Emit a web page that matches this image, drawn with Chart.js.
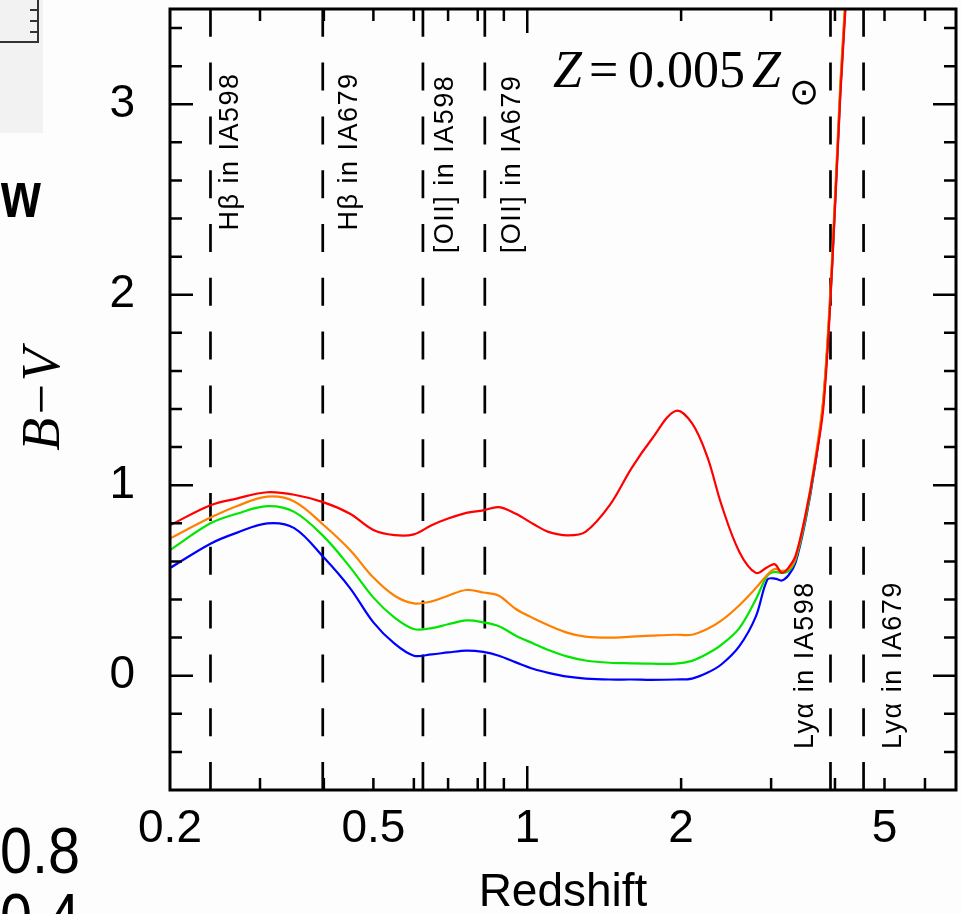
<!DOCTYPE html>
<html>
<head>
<meta charset="utf-8">
<script src="https://cdn.jsdelivr.net/npm/chart.js@4.4.0/dist/chart.umd.min.js"></script>
<style>
  body { margin: 0; background: #fdfdfd; }
  #wrap { position: relative; width: 961px; height: 914px; overflow: hidden; }
  #chart { position: absolute; left: 0; top: 0; }
  .scrap { position: absolute; color: #000; font-family: 'Liberation Sans', sans-serif; line-height: 1; white-space: nowrap; transform-origin: left top; }
  .tick { position: absolute; left: 30px; width: 8px; height: 2px; background: #333; }
</style>
</head>
<body>
<div id="wrap">
  <!-- bits of the neighbouring figure that got caught in the crop -->
  <div style="position:absolute;left:0;top:0;width:43px;height:133px;background:#f2f2f2"></div>
  <div style="position:absolute;left:0;top:0;width:37px;height:41px;border-right:2px solid #333;border-bottom:2px solid #333"></div>
  <div class="tick" style="top:9px"></div>
  <div class="tick" style="top:20px"></div>
  <div class="tick" style="top:31px"></div>
  <div class="scrap" style="left:1px;top:163px;font-size:64px;font-weight:bold;transform:scaleX(0.8)">w</div>
  <div class="scrap" style="left:0;top:819px;font-size:64px;transform:scaleX(0.9)">0.8</div>
  <div class="scrap" style="left:0;top:885px;font-size:64px;transform:scaleX(0.9)">0.4</div>
  <canvas id="chart" width="961" height="914"></canvas>
</div>
<script>
// redshift grid shared by the four tracks
const redshift = [0.2, 0.24, 0.27, 0.31, 0.35, 0.4, 0.45, 0.5, 0.55, 0.6,
                  0.65, 0.7, 0.76, 0.82, 0.88, 0.95, 1.03, 1.1, 1.2, 1.3,
                  1.45, 1.6, 1.75, 1.95, 2.1, 2.25, 2.4, 2.6, 2.8, 2.95,
                  3.05, 3.15, 3.25, 3.35, 3.5, 3.65, 3.8, 3.95, 4.1, 4.25];

// B-V colour tracks
const bvRed = [0.79, 0.895, 0.93, 0.963, 0.95, 0.91, 0.85, 0.765, 0.738, 0.742,
               0.79, 0.825, 0.855, 0.868, 0.885, 0.85, 0.795, 0.755, 0.737, 0.755,
               0.895, 1.09, 1.24, 1.39, 1.326, 1.15, 0.895, 0.65, 0.54, 0.57,
               0.585, 0.54, 0.57, 0.63, 0.84, 1.1, 1.42, 2.15, 3.06, 3.75];
const bvOrange = [0.72, 0.83, 0.89, 0.94, 0.915, 0.79, 0.66, 0.515, 0.42, 0.38,
                  0.39, 0.42, 0.45, 0.437, 0.42, 0.35, 0.30, 0.265, 0.225, 0.205,
                  0.20, 0.205, 0.21, 0.215, 0.215, 0.245, 0.29, 0.37, 0.46, 0.53,
                  0.56, 0.55, 0.56, 0.62, 0.84, 1.12, 1.47, 2.2, 3.12, 3.8];
const bvGreen = [0.66, 0.80, 0.85, 0.89, 0.86, 0.73, 0.57, 0.41, 0.305, 0.245,
                 0.25, 0.27, 0.29, 0.28, 0.26, 0.21, 0.168, 0.135, 0.10, 0.08,
                 0.068, 0.065, 0.063, 0.063, 0.078, 0.115, 0.163, 0.25, 0.40, 0.525,
                 0.545, 0.54, 0.55, 0.61, 0.82, 1.10, 1.46, 2.17, 3.1, 3.78];
const bvBlue = [0.565, 0.693, 0.75, 0.80, 0.775, 0.62, 0.46, 0.28, 0.168, 0.105,
                0.112, 0.122, 0.132, 0.125, 0.105, 0.07, 0.035, 0.015, -0.005, -0.015,
                -0.02, -0.02, -0.022, -0.02, -0.015, 0.015, 0.06, 0.155, 0.31, 0.505,
                0.51, 0.50, 0.53, 0.595, 0.81, 1.09, 1.45, 2.16, 3.08, 3.77];

// emission lines falling in the filters
const lineZ = [0.240, 0.398, 0.625, 0.826, 3.92, 4.55];
const lineNames = ['Hβ in IA598', 'Hβ in IA679', '[OII] in IA598', '[OII] in IA679', 'Lyα in IA598', 'Lyα in IA679'];

// axes
const xRange = [0.2, 6.9];
const yRange = [-0.6, 3.5];
const xTickLabels = [0.2, 0.5, 1, 2, 5];
const yTickLabels = [0, 1, 2, 3];
const xMinor = [0.3, 0.4, 0.5, 0.6, 0.7, 0.8, 0.9, 2, 3, 4, 5, 6];
const xMajor = [1];

const sans = "'Liberation Sans', Arial, sans-serif";
const serif = "'Liberation Serif', 'Times New Roman', serif";

function track(values) {
    return redshift.map((z, i) => ({ x: z, y: values[i] }));
}

// frame with inward ticks on all four sides
const frameTicks = {
    id: 'frameTicks',
    afterDatasetsDraw(chart) {
        const { ctx, chartArea: a, scales: { x, y } } = chart;
        ctx.save();
        ctx.strokeStyle = '#000';
        ctx.lineWidth = 2.5;
        ctx.beginPath();
        for (let k = Math.round(yRange[0] * 5) + 1; k < Math.round(yRange[1] * 5); k++) {
            const py = y.getPixelForValue(k / 5);
            const len = k % 5 === 0 ? 23 : 12;
            ctx.moveTo(a.left, py); ctx.lineTo(a.left + len, py);
            ctx.moveTo(a.right, py); ctx.lineTo(a.right - len, py);
        }
        xMinor.concat(xMajor).forEach(v => {
            const px = x.getPixelForValue(v);
            const len = xMajor.includes(v) ? 24 : 12;
            ctx.moveTo(px, a.bottom); ctx.lineTo(px, a.bottom - len);
            ctx.moveTo(px, a.top); ctx.lineTo(px, a.top + len);
        });
        ctx.stroke();
        ctx.lineWidth = 3;
        ctx.strokeRect(a.left, a.top, a.right - a.left, a.bottom - a.top);
        ctx.restore();
    }
};

// rotated line labels and the metallicity note
const lineLabels = {
    id: 'lineLabels',
    afterDatasetsDraw(chart, args, opts) {
        const { ctx, scales: { x, y } } = chart;
        ctx.save();
        ctx.fillStyle = '#000';
        ctx.font = '27px ' + sans;
        ctx.letterSpacing = '1.5px';
        ctx.textAlign = 'center';
        ctx.textBaseline = 'alphabetic';
        lineZ.forEach((z, i) => {
            ctx.save();
            ctx.translate(x.getPixelForValue(z) + opts.dx[i], y.getPixelForValue(opts.midY[i]));
            ctx.rotate(-Math.PI / 2);
            ctx.fillText(lineNames[i], 0, 0);
            ctx.restore();
        });
        ctx.letterSpacing = '0px';
        ctx.textAlign = 'left';
        const b = opts.noteBaseline;
        ctx.font = 'italic 52px ' + serif;
        ctx.fillText('Z', 553, b);
        ctx.font = '52px ' + serif;
        ctx.fillText('=', 589, b);
        ctx.fillText('0.005', 628, b);
        ctx.font = 'italic 52px ' + serif;
        ctx.fillText('Z', 752, b);
        ctx.font = '36px DejaVu Sans';
        ctx.textAlign = 'center';
        ctx.textBaseline = 'middle';
        ctx.fillText('⊙', 804, 95);
        ctx.restore();
    }
};

const lineStyle = (colour) => ({
    borderColor: colour,
    borderWidth: 2.2,
    pointRadius: 0,
    fill: false,
    tension: 0.35
});

const datasets = [
    { data: track(bvRed), ...lineStyle('#ff0000') },
    { data: track(bvOrange), ...lineStyle('#ff8000') },
    { data: track(bvGreen), ...lineStyle('#00e600') },
    { data: track(bvBlue), ...lineStyle('#0000ff') }
];
lineZ.forEach(z => {
    datasets.push({
        data: [{ x: z, y: yRange[0] }, { x: z, y: yRange[1] }],
        borderColor: '#000',
        borderWidth: 2.7,
        borderDash: [28, 25.8],
        pointRadius: 0,
        fill: false
    });
});

new Chart(document.getElementById('chart'), {
    type: 'line',
    data: { datasets: datasets },
    options: {
        responsive: false,
        animation: false,
        events: [],
        layout: { padding: { top: 9, right: 5, left: 0, bottom: 0 } },
        plugins: {
            legend: { display: false },
            tooltip: { enabled: false },
            lineLabels: {
                dx: [28, 34, 30, 35, -17, 37],
                midY: [2.752, 2.752, 2.686, 2.686, 0.056, 0.056],
                noteBaseline: 87
            }
        },
        scales: {
            x: {
                type: 'logarithmic',
                min: xRange[0],
                max: xRange[1],
                afterBuildTicks: s => { s.ticks = xTickLabels.map(v => ({ value: v })); },
                afterFit: s => { s.height = 124; s.paddingLeft = 0; s.paddingRight = 0; },
                grid: { display: false, drawTicks: false },
                border: { display: false },
                ticks: {
                    autoSkip: false,
                    maxRotation: 0,
                    padding: 12,
                    color: '#000',
                    font: { family: sans, size: 46 },
                    callback: v => String(v)
                },
                title: {
                    display: true,
                    text: 'Redshift',
                    color: '#000',
                    padding: 0,
                    font: { family: sans, size: 46, lineHeight: 0.9 }
                }
            },
            y: {
                type: 'linear',
                min: yRange[0],
                max: yRange[1],
                afterBuildTicks: s => { s.ticks = yTickLabels.map(v => ({ value: v })); },
                afterFit: s => { s.width = 170; s.paddingTop = 0; s.paddingBottom = 0; },
                grid: { display: false, drawTicks: false },
                border: { display: false },
                ticks: {
                    padding: 35,
                    color: '#000',
                    font: { family: sans, size: 46 }
                },
                title: {
                    display: true,
                    text: 'B−V',
                    color: '#000',
                    padding: { top: 12, bottom: 0 },
                    font: { family: serif, size: 54, style: 'italic', lineHeight: 1.2 }
                }
            }
        }
    },
    plugins: [frameTicks, lineLabels]
});
</script>
</body>
</html>
